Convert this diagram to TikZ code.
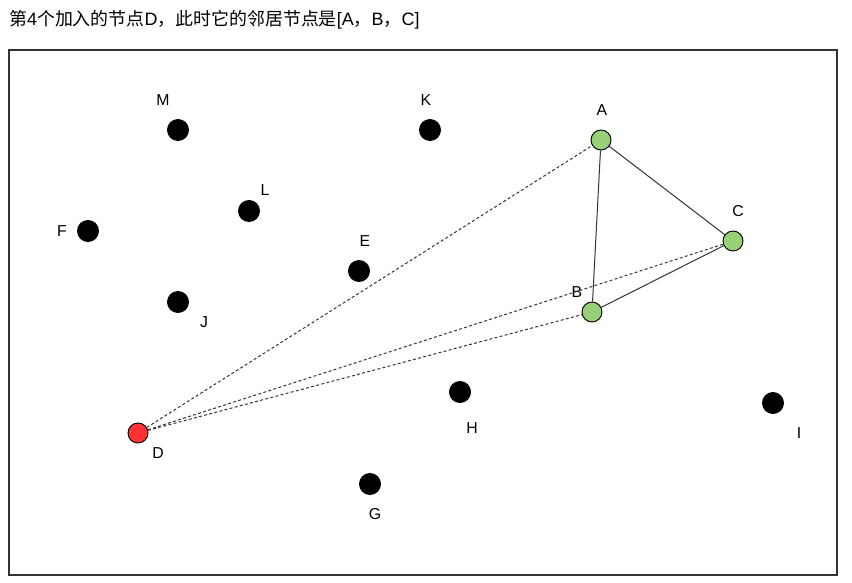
\documentclass[tikz,border=0pt]{standalone}
\usepackage{fontspec}
\setmainfont{Liberation Sans}
\newfontfamily\cjk{Noto Sans CJK SC}
\usepackage{tikz}
\usetikzlibrary{positioning}

\definecolor{nbrgreen}{HTML}{97D077}
\definecolor{newred}{HTML}{FF3333}
\definecolor{framegray}{HTML}{333333}

\begin{document}
\begin{tikzpicture}[
    x=0.03cm, y=-0.03cm,
    vertex/.style={
      circle,
      draw=black,
      fill=black,
      line width=0.8pt,
      minimum size=21*0.03cm,
      inner sep=0pt
    },
    nbrvertex/.style={vertex, fill=nbrgreen, minimum size=20*0.03cm},
    newvertex/.style={vertex, fill=newred, minimum size=20*0.03cm},
    lbl/.style={font=\fontsize{13.5pt}{15pt}\selectfont, inner sep=0pt},
    nbredge/.style={draw=framegray, line width=0.85pt},
    candedge/.style={draw=framegray, line width=0.85pt, dash pattern=on 2.5pt off 2pt}
  ]
  \useasboundingbox (0,0) rectangle (852,582);
  % title
  \node[anchor=west, inner sep=0pt, font=\fontsize{15.3pt}{17pt}\selectfont] (title) at (9,20)
    {{\cjk 第}4{\cjk 个加入的节点}D{\cjk ，此时它的邻居节点是}[A{\cjk ，}B{\cjk ，}C]};
  % frame
  \draw[framegray, line width=0.9pt] (9,50) rectangle (837,575);

  % nodes
  \node[vertex] (M) at (178,130) {};
  \node[vertex] (K) at (430,130) {};
  \node[nbrvertex] (A) at (601,140) {};
  \node[vertex] (L) at (249,211) {};
  \node[vertex] (F) at (88,231) {};
  \node[nbrvertex] (C) at (733,241) {};
  \node[vertex] (E) at (359,271) {};
  \node[vertex] (J) at (178,302) {};
  \node[nbrvertex] (B) at (592,312) {};
  \node[vertex] (H) at (460,392) {};
  \node[vertex] (I) at (773,403) {};
  \node[newvertex] (D) at (138,433) {};
  \node[vertex] (G) at (370,484) {};

  % labels
  \node[lbl] (Mlbl) at (163,100) {M};
  \node[lbl] (Klbl) at (426,100) {K};
  \node[lbl] (Albl) at (602,110) {A};
  \node[lbl] (Llbl) at (265,190) {L};
  \node[lbl] (Flbl) at (62,231) {F};
  \node[lbl] (Clbl) at (738,211) {C};
  \node[lbl] (Elbl) at (365,241) {E};
  \node[lbl] (Jlbl) at (204,322) {J};
  \node[lbl] (Blbl) at (577,292) {B};
  \node[lbl] (Hlbl) at (472,428) {H};
  \node[lbl] (Ilbl) at (799,433) {I};
  \node[lbl] (Dlbl) at (158,453) {D};
  \node[lbl] (Glbl) at (375,514) {G};

  % edges
  \draw[nbredge] (A) -- (B);
  \draw[nbredge] (A) -- (C);
  \draw[nbredge] (B) -- (C);
  \draw[candedge] (D) -- (A);
  \draw[candedge] (D) -- (C);
  \draw[candedge] (D) -- (B);
\end{tikzpicture}
\end{document}
